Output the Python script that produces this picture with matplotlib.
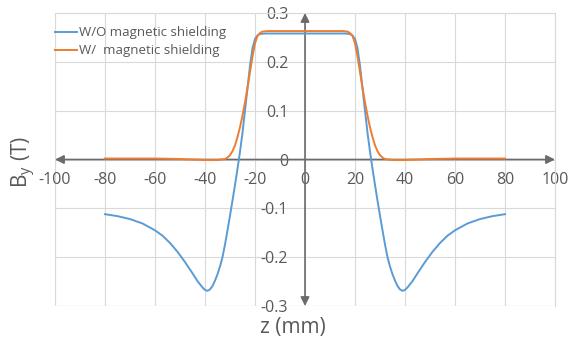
import matplotlib
matplotlib.use("Agg")
import matplotlib.pyplot as plt

plt.rcParams['font.family'] = ['Open Sans', 'DejaVu Sans']

# ---- data ----
z_wo = [-80, -75, -70, -65, -60, -57, -54, -51, -48, -45, -43, -41, -40, -39, -38,
        -37, -36, -35, -34, -33, -32, -31, -30, -29, -28, -27, -26, -25, -24, -23,
        -22, -21, -20, -19, -18, -16, -10, 0, 10, 16, 18, 19, 20, 21, 22, 23, 24,
        25, 26, 27, 28, 29, 30, 31, 32, 33, 34, 35, 36, 37, 38, 39, 40, 41, 43, 45,
        48, 51, 54, 57, 60, 65, 70, 75, 80]
by_wo = [-0.112, -0.116, -0.122, -0.131, -0.145, -0.156, -0.171, -0.189, -0.210,
         -0.233, -0.249, -0.262, -0.267, -0.269, -0.266, -0.259, -0.248, -0.235,
         -0.219, -0.200, -0.174, -0.145, -0.115, -0.084, -0.052, -0.019, 0.016,
         0.055, 0.100, 0.146, 0.192, 0.228, 0.247, 0.254, 0.257, 0.258, 0.258,
         0.258, 0.258, 0.258, 0.257, 0.254, 0.247, 0.228, 0.192, 0.146, 0.100,
         0.055, 0.016, -0.019, -0.052, -0.084, -0.115, -0.145, -0.174, -0.200,
         -0.219, -0.235, -0.248, -0.259, -0.266, -0.269, -0.267, -0.262, -0.249,
         -0.233, -0.210, -0.189, -0.171, -0.156, -0.145, -0.131, -0.122, -0.116,
         -0.112]

z_w = [-80, -70, -60, -50, -45, -40, -35, -32, -31, -30, -29, -28, -27, -26, -25,
       -24, -23, -22, -21, -20, -19, -18, -17, -15, 0, 15, 17, 18, 19, 20, 21, 22,
       23, 24, 25, 26, 27, 28, 29, 30, 31, 32, 35, 40, 45, 50, 60, 70, 80]
by_w = [0.002, 0.002, 0.002, 0.001, 0.000, -0.001, -0.001, 0.001, 0.004, 0.009,
        0.017, 0.029, 0.046, 0.066, 0.090, 0.117, 0.147, 0.179, 0.211, 0.238,
        0.253, 0.259, 0.262, 0.263, 0.263, 0.263, 0.262, 0.259, 0.253, 0.238,
        0.211, 0.179, 0.147, 0.117, 0.090, 0.066, 0.046, 0.029, 0.017, 0.009,
        0.004, 0.001, -0.001, -0.001, 0.000, 0.001, 0.002, 0.002, 0.002]

labels = ['W/O magnetic shielding', 'W/  magnetic shielding']
xticks = [-100, -80, -60, -40, -20, 0, 20, 40, 60, 80, 100]
yticks = [-0.3, -0.2, -0.1, 0, 0.1, 0.2, 0.3]

# ---- figure ----
W, H = 571, 339
fig = plt.figure(figsize=(W / 100, H / 100), dpi=100)
ax = fig.add_axes([55 / W, (H - 306) / H, 500 / W, 293 / H])

grid_c = '#d9d9d9'
txt_c = '#595959'
axis_c = '#6b6b6b'

ax.set_xlim(-100, 100)
ax.set_ylim(-0.3, 0.3)
ax.set_xticks(xticks)
ax.set_yticks(yticks)
ax.set_xticklabels([str(v) for v in xticks])
ax.set_yticklabels(['-0.3', '-0.2', '-0.1', '0', '0.1', '0.2', '0.3'])
ax.grid(True, color=grid_c, lw=0.8)
ax.set_axisbelow(True)

# axes cross at the origin
ax.spines['bottom'].set_position(('data', 0))
ax.spines['left'].set_position(('data', 0))
for s in ['bottom', 'left']:
    ax.spines[s].set_visible(False)
for s in ['top', 'right']:
    ax.spines[s].set_color(grid_c)
    ax.spines[s].set_linewidth(0.8)
ax.tick_params(axis='x', length=0, pad=9, labelsize=11.5, labelcolor=txt_c)
ax.tick_params(axis='y', length=0, pad=12, labelsize=11.5, labelcolor=txt_c)

# grid lines on the left/bottom edges
ax.axvline(-100, color=grid_c, lw=0.8, zorder=0)
ax.axhline(-0.3, color=grid_c, lw=0.8, zorder=0)

# arrowed axes
arr = dict(arrowstyle='<|-|>', color=axis_c, lw=1.2, mutation_scale=13,
           shrinkA=0, shrinkB=0)
ax.annotate('', xy=(100, 0), xytext=(-100, 0), arrowprops=arr,
            annotation_clip=False, zorder=1)
ax.annotate('', xy=(0, 0.3), xytext=(0, -0.3), arrowprops=arr,
            annotation_clip=False, zorder=1)

ax.plot(z_wo, by_wo, color='#5b9bd5', lw=1.4, label=labels[0], zorder=3)
ax.plot(z_w, by_w, color='#ed7d31', lw=1.4, label=labels[1], zorder=4)

leg = ax.legend(loc='upper left', bbox_to_anchor=(0, 0.955), frameon=False,
                fontsize=9.5, handlelength=1.7, handletextpad=0.15,
                borderpad=0, borderaxespad=0, labelspacing=0.4)
for t in leg.get_texts():
    t.set_color(txt_c)

fig.text(24 / W, 1 - 162 / H, r'B$_\mathregular{y}$ (T)', rotation=90,
         ha='center', va='center', fontsize=15, color=txt_c)
fig.text(293 / W, 1 - 327 / H, 'z (mm)', ha='center', va='center',
         fontsize=15, color=txt_c)

fig.savefig('out.png', dpi=100)
